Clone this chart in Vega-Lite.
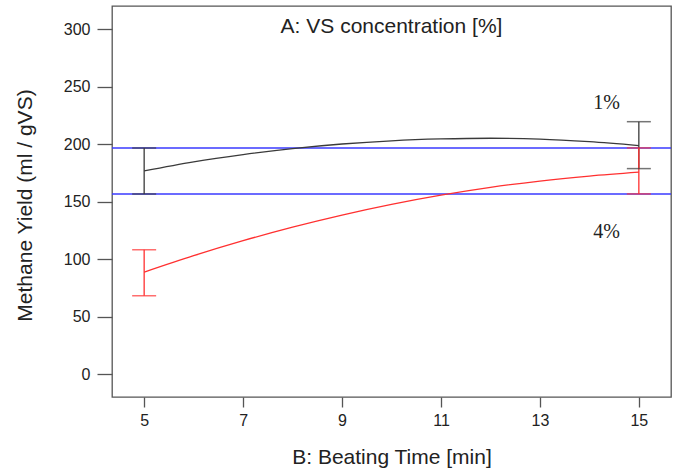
{
  "$schema": "https://vega.github.io/schema/vega-lite/v6.json",
  "width": 559,
  "height": 391,
  "autosize": {"type": "none"},
  "padding": {"left": 112, "top": 6, "right": 7, "bottom": 76},
  "background": "white",
  "datasets": {
    "curves": [
      {"time": 5, "yield": 176.6, "series": "1%"},
      {"time": 6, "yield": 184.5, "series": "1%"},
      {"time": 7, "yield": 190.8, "series": "1%"},
      {"time": 8, "yield": 196.0, "series": "1%"},
      {"time": 9, "yield": 200.0, "series": "1%"},
      {"time": 10, "yield": 202.8, "series": "1%"},
      {"time": 11, "yield": 204.4, "series": "1%"},
      {"time": 12, "yield": 205.0, "series": "1%"},
      {"time": 13, "yield": 204.3, "series": "1%"},
      {"time": 14, "yield": 202.0, "series": "1%"},
      {"time": 15, "yield": 198.6, "series": "1%"},
      {"time": 5, "yield": 88.6, "series": "4%"},
      {"time": 6, "yield": 102.9, "series": "4%"},
      {"time": 7, "yield": 115.9, "series": "4%"},
      {"time": 8, "yield": 127.7, "series": "4%"},
      {"time": 9, "yield": 138.2, "series": "4%"},
      {"time": 10, "yield": 147.5, "series": "4%"},
      {"time": 11, "yield": 155.5, "series": "4%"},
      {"time": 12, "yield": 162.3, "series": "4%"},
      {"time": 13, "yield": 167.8, "series": "4%"},
      {"time": 14, "yield": 172.1, "series": "4%"},
      {"time": 15, "yield": 175.5, "series": "4%"}
    ],
    "bars": [
      {"time": 5, "lo": 156.6, "hi": 196.6, "series": "1%"},
      {"time": 15, "lo": 178.6, "hi": 219.4, "series": "1%"},
      {"time": 5, "lo": 68.0, "hi": 108.0, "series": "4%"},
      {"time": 15, "lo": 156.6, "hi": 196.6, "series": "4%"}
    ],
    "limits": [
      {"yield": 196.6},
      {"yield": 156.6}
    ],
    "labels": [
      {"time": 14.35, "yield": 230.5, "text": "1%"},
      {"time": 14.35, "yield": 118.4, "text": "4%"}
    ],
    "heading": [
      {"time": 10, "yield": 296.5, "text": "A: VS concentration [%]"}
    ]
  },
  "layer": [
    {
      "data": {"name": "limits"},
      "mark": {"type": "rule", "color": "#3a3aff", "strokeWidth": 1.5},
      "encoding": {
        "y": {"field": "yield", "type": "quantitative", "title": "Methane Yield (ml / gVS)", "scale": {"domain": [-20, 320], "nice": false, "zero": false}, "axis": {"values": [0, 50, 100, 150, 200, 250, 300]}}
      }
    },
    {
      "data": {"name": "curves"},
      "mark": {"type": "line", "strokeWidth": 1.3, "interpolate": "monotone"},
      "encoding": {
        "x": {"field": "time", "type": "quantitative", "title": "B: Beating Time [min]", "scale": {"domain": [4.35, 15.65], "nice": false, "zero": false}, "axis": {"values": [5, 7, 9, 11, 13, 15]}},
        "y": {"field": "yield", "type": "quantitative", "title": "Methane Yield (ml / gVS)"},
        "color": {"field": "series", "type": "nominal", "scale": {"domain": ["1%", "4%"], "range": ["#3a3a3a", "#ff3030"]}, "legend": null}
      }
    },
    {
      "data": {"name": "bars"},
      "mark": {"type": "rule", "strokeWidth": 1.3},
      "encoding": {
        "x": {"field": "time", "type": "quantitative", "title": "B: Beating Time [min]"},
        "y": {"field": "lo", "type": "quantitative", "title": "Methane Yield (ml / gVS)"},
        "y2": {"field": "hi"},
        "color": {"field": "series", "type": "nominal", "legend": null}
      }
    },
    {
      "data": {"name": "bars"},
      "mark": {"type": "tick", "orient": "horizontal", "size": 24, "thickness": 1.5},
      "encoding": {
        "x": {"field": "time", "type": "quantitative", "title": "B: Beating Time [min]"},
        "y": {"field": "lo", "type": "quantitative", "title": "Methane Yield (ml / gVS)"},
        "color": {"field": "series", "type": "nominal", "legend": null}
      }
    },
    {
      "data": {"name": "bars"},
      "mark": {"type": "tick", "orient": "horizontal", "size": 24, "thickness": 1.5},
      "encoding": {
        "x": {"field": "time", "type": "quantitative", "title": "B: Beating Time [min]"},
        "y": {"field": "hi", "type": "quantitative", "title": "Methane Yield (ml / gVS)"},
        "color": {"field": "series", "type": "nominal", "legend": null}
      }
    },
    {
      "data": {"name": "labels"},
      "mark": {"type": "text", "font": "Liberation Serif", "fontSize": 20, "color": "#222222", "baseline": "alphabetic", "align": "center"},
      "encoding": {
        "x": {"field": "time", "type": "quantitative", "title": "B: Beating Time [min]"},
        "y": {"field": "yield", "type": "quantitative", "title": "Methane Yield (ml / gVS)"},
        "text": {"field": "text"}
      }
    },
    {
      "data": {"name": "heading"},
      "mark": {"type": "text", "font": "Liberation Sans", "fontSize": 21, "color": "#222222", "baseline": "alphabetic", "align": "center"},
      "encoding": {
        "x": {"field": "time", "type": "quantitative", "title": "B: Beating Time [min]"},
        "y": {"field": "yield", "type": "quantitative", "title": "Methane Yield (ml / gVS)"},
        "text": {"field": "text"}
      }
    }
  ],
  "config": {
    "view": {"stroke": "#555555", "strokeWidth": 1.3},
    "axis": {
      "grid": false,
      "domain": false,
      "tickColor": "#555555",
      "tickWidth": 1.3,
      "labelFont": "Liberation Sans",
      "labelFontSize": 16,
      "labelColor": "#222222",
      "titleFont": "Liberation Sans",
      "titleFontSize": 21,
      "titleFontWeight": "normal",
      "titleColor": "#222222"
    },
    "axisX": {"tickSize": 10, "labelPadding": 5, "titleY": 66, "titleBaseline": "alphabetic"},
    "axisY": {"tickSize": 15, "labelPadding": 7, "titleX": -81, "titleY": 199, "titleBaseline": "alphabetic", "titleAlign": "center"}
  }
}
